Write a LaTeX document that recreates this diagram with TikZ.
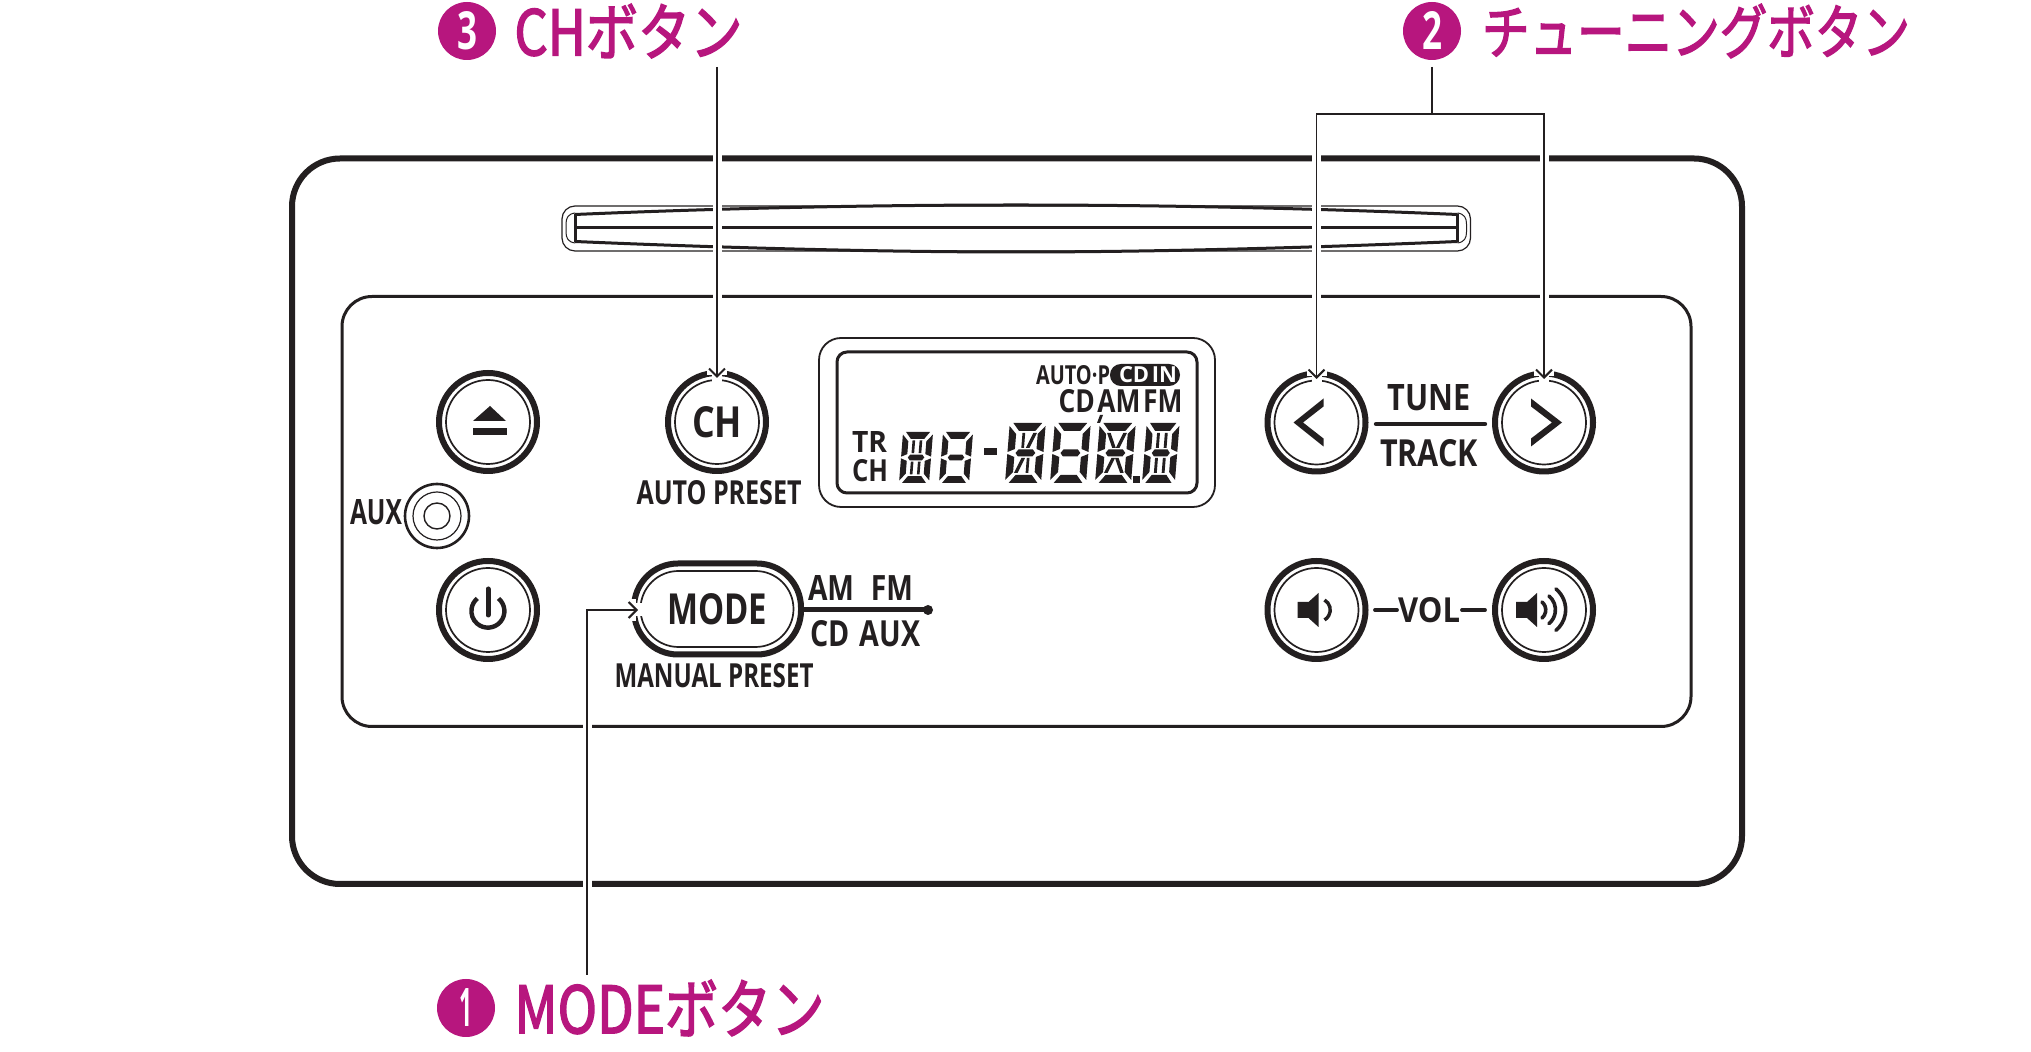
\documentclass[tikz,border=0pt]{standalone}
\usepackage{fontspec}
\usepackage{graphicx}
\setmainfont{Open Sans}
\newfontfamily\cjk{Noto Sans CJK JP}[FakeBold=2.6]
\usetikzlibrary{arrows.meta,calc}
\definecolor{ink}{HTML}{231F20}
\definecolor{mag}{HTML}{B7167E}
\newcommand\lab[3]{\resizebox{#1pt}{#2pt}{\bfseries #3}}
\newcommand\ttl[3]{\resizebox*{#1pt}{#2pt}{\cjk #3}}
\newcommand\lcdcell[5]{%
 \begin{scope}[shift={(#1,#2)},xslant=.08,xscale=#3,yscale=#4]
 \begin{scope}[shift={(0,-60)}]
  \fill[ink] (4,0)--(36,0)--(29,8)--(11,8)--cycle;
  \fill[ink] (4,60)--(36,60)--(29,52)--(11,52)--cycle;
  \fill[ink] (0,3)--(8,11)--(8,26)--(0,29)--cycle;
  \fill[ink] (0,31)--(8,34)--(8,49)--(0,57)--cycle;
  \fill[ink] (40,3)--(32,11)--(32,26)--(40,29)--cycle;
  \fill[ink] (40,31)--(32,34)--(32,49)--(40,57)--cycle;
  \fill[ink] (9,30)--(12,26.5)--(28,26.5)--(31,30)--(28,33.5)--(12,33.5)--cycle;
  #5
 \end{scope}\end{scope}}
\newcommand\barsUp{\fill[ink] (13.5,10)--(17,10)--(17,25)--(13.5,25)--cycle;\fill[ink] (23,10)--(26.5,10)--(26.5,25)--(23,25)--cycle;}
\newcommand\barsDn{\fill[ink] (13.5,35)--(17,35)--(17,50)--(13.5,50)--cycle;\fill[ink] (23,35)--(26.5,35)--(26.5,50)--(23,50)--cycle;}
\newcommand\diagUR{\fill[ink] (31,10)--(27,10)--(20,25)--(24,25)--cycle;}
\newcommand\diagUL{\fill[ink] (9,10)--(13,10)--(20,25)--(16,25)--cycle;}
\newcommand\diagDR{\fill[ink] (31,50)--(27,50)--(20,35)--(24,35)--cycle;}
\newcommand\diagDL{\fill[ink] (9,50)--(13,50)--(20,35)--(16,35)--cycle;}
\newcommand\midUp{\fill[ink] (15,10)--(18,10)--(18,25)--(15,25)--cycle;}
\newcommand\midDn{\fill[ink] (22,35)--(25,35)--(25,50)--(22,50)--cycle;}
\tikzset{
 txt/.style={inner sep=0pt,outer sep=0pt,text=ink},
 ring/.style={circle,draw=ink,line width=3pt,minimum size=49pt,inner sep=0pt,outer sep=0pt},
 ringin/.style={circle,draw=ink,line width=.85pt,minimum size=42pt,inner sep=0pt,outer sep=0pt},
 leader/.style={draw=ink,line width=.8pt},
 tipped/.style={leader,-{Straight Barb[length=4pt,width=8pt,line width=1pt]}},
 halo/.style={draw=white,line width=4.5pt},
 bignum/.style={circle,fill=mag,minimum size=29pt,inner sep=0pt,outer sep=0pt,text=white},
 ttlnode/.style={inner sep=0pt,outer sep=0pt,text=mag},
}
\begin{document}
\begin{tikzpicture}[x=.5pt,y=-.5pt]
\fill[white] (0,0) rectangle (2031,1052);
\useasboundingbox (0,0) rectangle (2031,1052);
% housing
\draw[ink,line width=3pt,rounded corners=24pt] (292,158.5) rectangle (1742,884);
\draw[ink,line width=1.5pt,rounded corners=15pt] (342,296.5) rectangle (1691,726.5);
% slot
\draw[ink,line width=.6pt,rounded corners=6.5pt] (562,206) rectangle (1470.5,251);
\draw[ink,line width=1.5pt] (575,214.5) .. controls (750,207) and (900,205) .. (1016,205) .. controls (1132,205) and (1282,207) .. (1457.5,214.5);
\draw[ink,line width=1.5pt] (575,241.5) .. controls (750,249) and (900,252) .. (1016,252) .. controls (1132,252) and (1282,249) .. (1457.5,241.5);
\draw[ink,line width=1.5pt] (575,228)--(1457.5,228);
\draw[ink,line width=1.5pt] (575,214)--(575,242);
\draw[ink,line width=1.5pt] (1457.5,214)--(1457.5,242);
\draw[ink,line width=.5pt] (575,213) .. controls (568,214) and (566,218) .. (566,224) -- (566,232) .. controls (566,238) and (568,242) .. (575,243);
\draw[ink,line width=.5pt] (1457.5,213) .. controls (1464.5,214) and (1466.5,218) .. (1466.5,224) -- (1466.5,232) .. controls (1466.5,238) and (1464.5,242) .. (1457.5,243);
% LCD
\draw[ink,line width=.9pt,rounded corners=11pt] (819,338) rectangle (1215,507);
\draw[ink,line width=1.5pt,rounded corners=5pt] (837,352) rectangle (1197,493);
\node[txt] (autop) at (1073,375.5) {\lab{37}{9.5}{AUTO·P}};
\fill[ink,rounded corners=5.4pt] (1110,364) rectangle (1180,386);
\node[txt,text=white] (cdin) at (1148,375) {\lab{29}{8}{CD\kern.12em IN}};
\node[txt] (cdamfm) at (1120.5,401) {\lab{62}{11.5}{CD\kern.1em AM\kern.1em FM}};
\node[txt] (tr) at (869.5,442.5) {\lab{17.5}{10.5}{TR}};
\node[txt] (chl) at (870,471) {\lab{18}{11}{CH}};
\lcdcell{899}{483}{.75}{.85}{\barsUp\barsDn}
\lcdcell{939}{483}{.75}{.85}{}
\fill[ink] (984,448) rectangle (997,455);
\lcdcell{1005}{483}{.9}{1}{\diagUR\midUp\diagDL\midDn}
\lcdcell{1050}{483}{.9}{1}{}
\lcdcell{1095}{483}{.9}{1}{\diagUL\diagUR\diagDL\diagDR}
\lcdcell{1142}{483}{.82}{1}{\barsUp\barsDn}
\fill[ink] (1133,476) rectangle (1140,483);
\fill[ink] (1097,423)--(1100,415)--(1103,415)--(1100,423)--cycle;
% buttons
\node[ring] (eject) at (488,422) {};
\node[ringin] (ejecti) at (488,422) {};
\fill[ink] (473,421)--(506,421)--(490,406)--cycle;
\fill[ink] (473,428) rectangle (507,435);
\node[ring] (power) at (488,610) {};
\node[ringin] (poweri) at (488,610) {};
\draw[ink,line width=2.2pt] (498.5,598.5) arc[start angle=-50,end angle=230,radius=16.5];
\draw[ink,line width=2.5pt,line cap=round] (488,589)--(488,615);
\node[ring] (ch) at (717,422) {};
\node[ringin,text=ink] (chi) at (717,422) {\lab{25}{15.5}{CH}};
% AUX jack
\node[circle,draw=ink,line width=1.3pt,minimum size=32pt,inner sep=0pt] (jack) at (437,516) {};
\node[circle,draw=ink,line width=.6pt,minimum size=24pt,inner sep=0pt] (jackm) at (437,516) {};
\node[circle,draw=ink,line width=.7pt,minimum size=13pt,inner sep=0pt] (jacki) at (437,516) {};
\node[txt] (aux) at (376,512.5) {\lab{26}{12.5}{AUX}};
\node[txt] (autopreset) at (719,493) {\lab{82.5}{12}{AUTO PRESET}};
% MODE
\draw[ink,line width=2.5pt] (803,610)--(928,610);
\fill[ink] (928,610) circle[radius=5];
\node[draw=ink,fill=white,line width=3pt,rounded corners=22pt,minimum width=83.5pt,minimum height=45.5pt,inner sep=0pt,outer sep=0pt] (mode) at (717.5,609) {};
\node[draw=ink,line width=.85pt,rounded corners=19pt,minimum width=76.5pt,minimum height=38pt,inner sep=0pt,outer sep=0pt,text=ink] (modei) at (717,609) {\lab{50}{15.5}{MODE}};
\node[txt] (manual) at (714,676) {\lab{99.5}{12}{MANUAL PRESET}};
\node[txt] (amfm) at (860.5,588) {\lab{52.5}{12.5}{AM\hspace{.6em}FM}};
\node[txt] (cdaux) at (865.5,634) {\lab{55}{13}{CD\hspace{.35em}AUX}};
% tune
\node[ring] (left) at (1316.5,422.5) {};
\node[ringin] (lefti) at (1316.5,422.5) {};
\fill[ink] (1293.5,422.5)--(1323.5,398.5)--(1323.5,406.5)--(1303,422.5)--(1323.5,438.5)--(1323.5,446.5)--cycle;
\node[ring] (right) at (1544,422.5) {};
\node[ringin] (righti) at (1544,422.5) {};
\fill[ink] (1562,422.5)--(1531,398.5)--(1531,406.5)--(1552,422.5)--(1531,438.5)--(1531,446.5)--cycle;
\node[txt] (tune) at (1429,398) {\lab{41.5}{13}{TUNE}};
\node[txt] (track) at (1429,453.5) {\lab{49}{13.5}{TRACK}};
\draw[ink,line width=2.2pt,line cap=round] (1376,424)--(1485,424);
% vol
\node[ring] (voldn) at (1316.5,610) {};
\node[ringin] (voldni) at (1316.5,610) {};
\fill[ink] (1297.5,602)--(1308.5,602)--(1318.5,593)--(1318.5,627)--(1308.5,618)--(1297.5,618)--cycle;
\draw[ink,line width=1.7pt] (1324.5,600) arc[start angle=-60,end angle=60,radius=11.5];
\node[ring] (volup) at (1544,610) {};
\node[ringin] (volupi) at (1544,610) {};
\fill[ink] (1516,602)--(1527,602)--(1537,593)--(1537,627)--(1527,618)--(1516,618)--cycle;
\draw[ink,line width=1.8pt,line cap=round] (1542,602) arc[start angle=-50,end angle=50,radius=10.5];
\draw[ink,line width=1.8pt,line cap=round] (1549,596) arc[start angle=-50,end angle=50,radius=18];
\draw[ink,line width=1.8pt,line cap=round] (1556,589) arc[start angle=-50,end angle=50,radius=27];
\node[txt] (vol) at (1429,610.5) {\lab{31}{12.5}{VOL}};
\draw[ink,line width=1.9pt,line cap=round] (1375,610)--(1397,610);
\draw[ink,line width=1.9pt,line cap=round] (1462,610)--(1485,610);
% titles
\node[bignum] (n3) at (467,31) {\lab{10}{19}{3}};
\node[ttlnode] (t3) at (628.5,31) {\ttl{114}{27}{CHボタン}};
\node[bignum] (n2) at (1432,31) {\lab{10}{19}{2}};
\node[ttlnode] (t2) at (1696,31) {\ttl{214}{27}{チューニングボタン}};
\node[bignum] (n1) at (466,1008) {\lab{6.5}{19}{1}};
\node[ttlnode] (t1) at (669.5,1008) {\ttl{155}{28}{MODEボタン}};
% leaders
\coordinate (c3) at (717,67);
\coordinate (c3t) at (717,378);
\coordinate (c2) at (1432,67);
\coordinate (c2j) at (1432,114);
\coordinate (lt) at (1316.5,379);
\coordinate (rt) at (1544,379);
\coordinate (lj) at (1316.5,114);
\coordinate (rj) at (1544,114);
\coordinate (c1) at (587,975);
\coordinate (c1j) at (587,610);
\coordinate (mt) at (638,610);
% halos
\draw[halo] (c3)--(717,364);
\draw[halo] (lj)--(1316.5,365);
\draw[halo] (rj)--(1544,365);
\draw[halo] (c1)--(c1j);
\draw[white,line width=10pt] (717,364)--(717,375);
\draw[white,line width=5pt] (717,375)--(717,384);
\draw[white,line width=10pt] (1316.5,365)--(1316.5,376);
\draw[white,line width=5pt] (1316.5,376)--(1316.5,385);
\draw[white,line width=10pt] (1544,365)--(1544,376);
\draw[white,line width=5pt] (1544,376)--(1544,385);
\draw[white,line width=11pt] (625,610)--(636,610);
\draw[white,line width=6.5pt] (636,610)--(645,610);
% arrows
\draw[tipped] (c3)--(c3t);
\draw[leader] (c2)--(c2j);
\draw[tipped] (c2j)--(lj)--(lt);
\draw[tipped] (c2j)--(rj)--(rt);
\draw[tipped] (c1)--(c1j)--(mt);
\end{tikzpicture}
\end{document}
